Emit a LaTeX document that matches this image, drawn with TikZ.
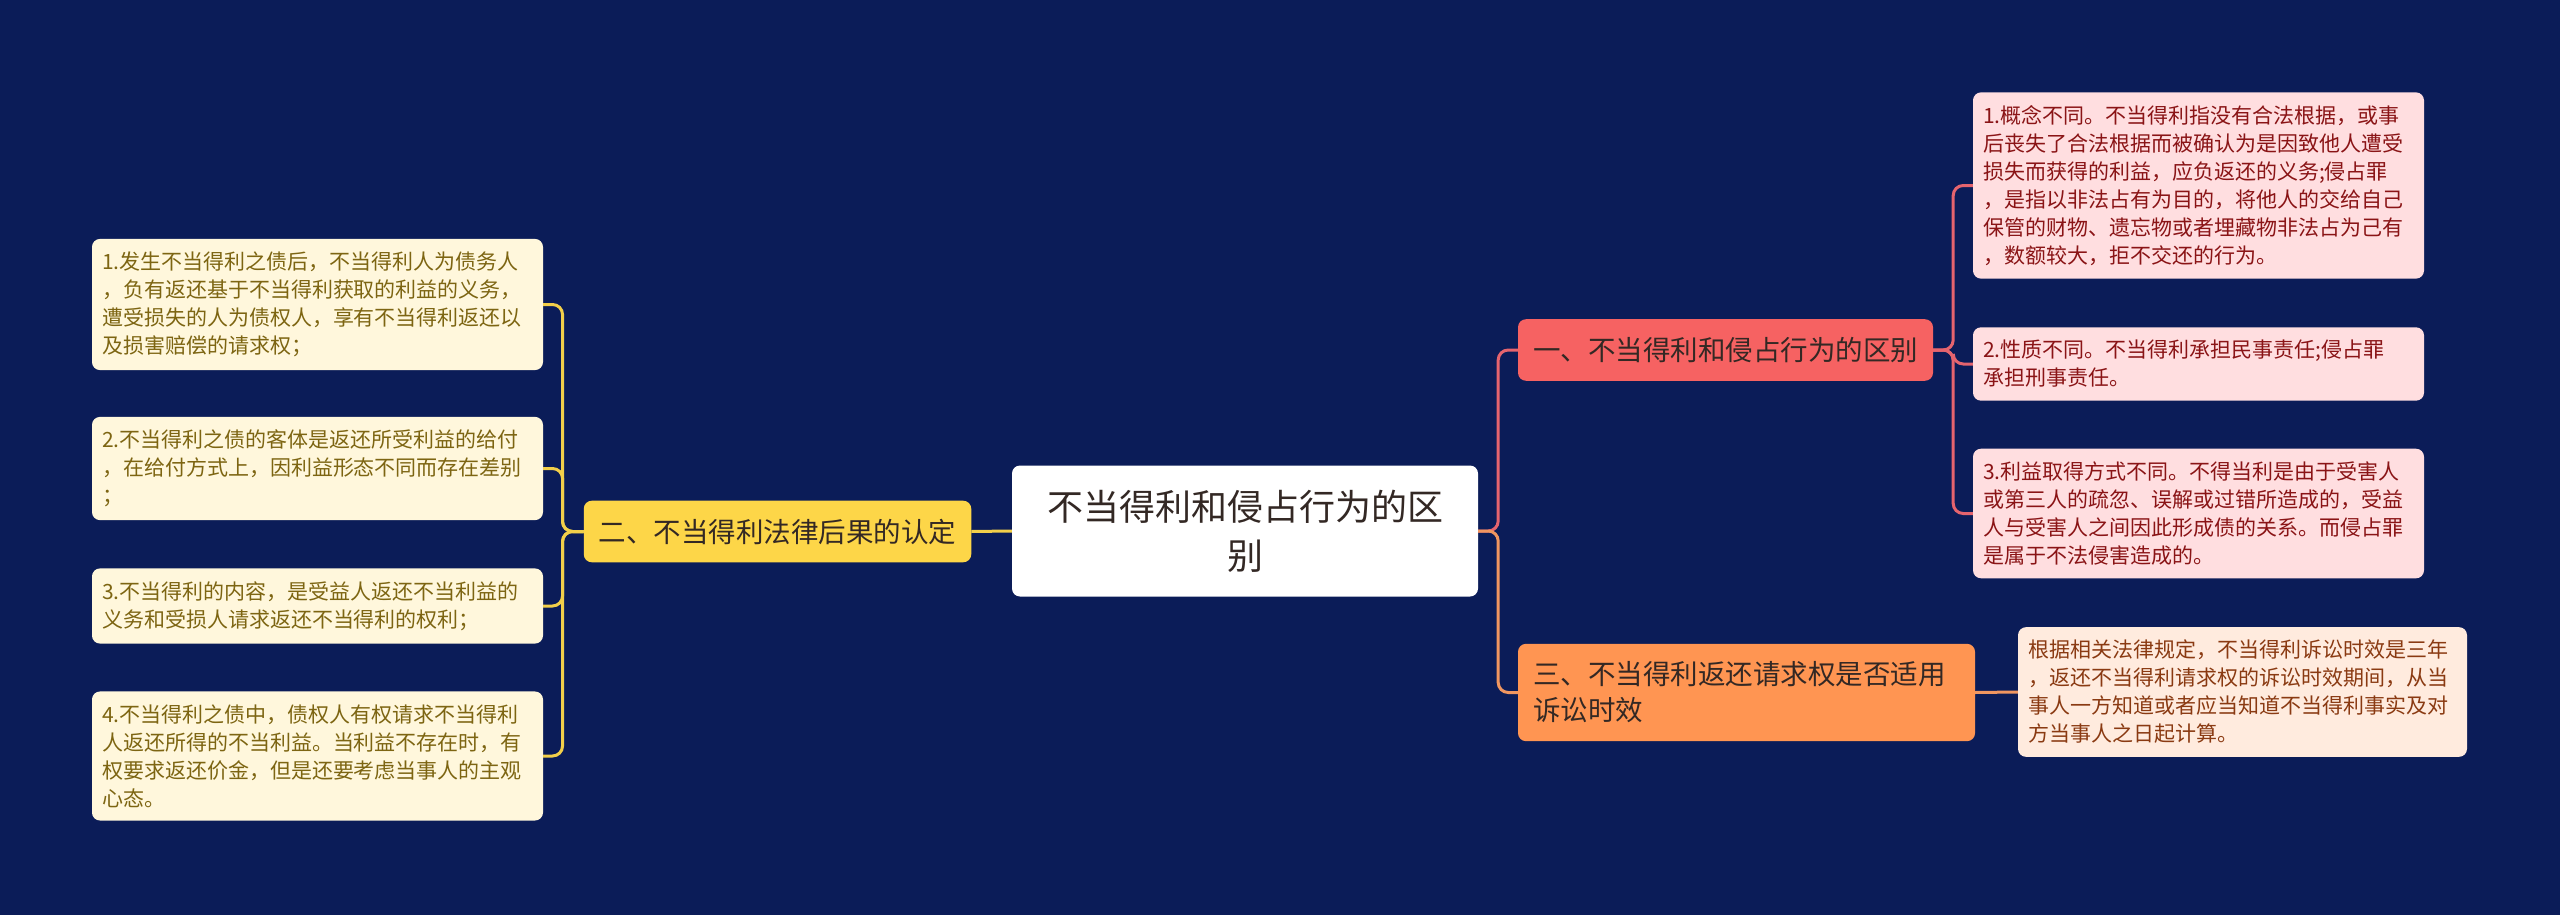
\documentclass[tikz,border=0pt]{standalone}
\usepackage{fontspec}
\setmainfont{Noto Sans CJK SC}

\begin{document}
\begin{tikzpicture}[
  x=1pt,y=-1pt,
  box/.style={rounded corners=8pt,inner xsep=10pt,inner ysep=13pt,align=left},
  leafbox/.style={box,text width=431pt,font=\fontsize{21}{28}\selectfont},
  branchbox/.style={box,inner xsep=15pt,inner ysep=18pt,font=\fontsize{27.5}{36}\selectfont},
  yleaf/.style={leafbox,fill=yleaffill,text=yleaftext},
  rleaf/.style={leafbox,fill=rleaffill,text=rleaftext},
  oleaf/.style={leafbox,text width=429pt,fill=oleaffill,text=oleaftext},
  link/.style={line width=3pt,rounded corners=10pt},
  ylink/.style={link,draw=ylinkcol},
  rlink/.style={link,draw=rlinkcol},
  olink/.style={link,draw=olinkcol}
]
\definecolor{bg}{RGB}{11,28,88}
\definecolor{yfill}{RGB}{253,214,72}
\definecolor{yleaffill}{RGB}{255,247,220}
\definecolor{yleaftext}{RGB}{125,101,18}
\definecolor{ylinkcol}{RGB}{242,207,74}
\definecolor{rfill}{RGB}{246,98,98}
\definecolor{rleaffill}{RGB}{255,222,224}
\definecolor{rleaftext}{RGB}{138,20,22}
\definecolor{rlinkcol}{RGB}{229,100,110}
\definecolor{ofill}{RGB}{255,149,82}
\definecolor{oleaffill}{RGB}{255,235,222}
\definecolor{oleaftext}{RGB}{138,58,18}
\definecolor{olinkcol}{RGB}{240,150,96}
\definecolor{darktext}{RGB}{51,40,36}

% Background and page size.
\fill[bg] (0,0) rectangle (2560,915);
\useasboundingbox (0,0) rectangle (2560,915);

% Central topic.
\node[box,fill=white,text=darktext,align=center,minimum width=466pt,minimum height=131pt,
  font=\fontsize{36}{49}\selectfont] (root) at (1245,531)
  {不当得利和侵占行为的区\\别};

% Left branch with its four points.
\node[branchbox,fill=yfill,text=darktext] (b2) at (777.5,531.5) {二、不当得利法律后果的认定};
\node[yleaf] (l1) at (317.5,304.5)
  {1.发生不当得利之债后，不当得利人为债务人\\，负有返还基于不当得利获取的利益的义务，\\遭受损失的人为债权人，享有不当得利返还以\\及损害赔偿的请求权；};
\node[yleaf] (l2) at (317.5,468.5)
  {2.不当得利之债的客体是返还所受利益的给付\\，在给付方式上，因利益形态不同而存在差别\\；};
\node[yleaf] (l3) at (317.5,606)
  {3.不当得利的内容，是受益人返还不当利益的\\义务和受损人请求返还不当得利的权利；};
\node[yleaf] (l4) at (317.5,756)
  {4.不当得利之债中，债权人有权请求不当得利\\人返还所得的不当利益。当利益不存在时，有\\权要求返还价金，但是还要考虑当事人的主观\\心态。};

% Right branch one: the three differences.
\node[branchbox,fill=rfill,text=darktext] (b1) at (1725.5,350) {一、不当得利和侵占行为的区别};
\node[rleaf] (r1) at (2198.5,185.5)
  {1.概念不同。不当得利指没有合法根据，或事\\后丧失了合法根据而被确认为是因致他人遭受\\损失而获得的利益，应负返还的义务;侵占罪\\，是指以非法占有为目的，将他人的交给自己\\保管的财物、遗忘物或者埋藏物非法占为己有\\，数额较大，拒不交还的行为。};
\node[rleaf] (r2) at (2198.5,364)
  {2.性质不同。不当得利承担民事责任;侵占罪\\承担刑事责任。};
\node[rleaf] (r3) at (2198.5,513.5)
  {3.利益取得方式不同。不得当利是由于受害人\\或第三人的疏忽、误解或过错所造成的，受益\\人与受害人之间因此形成债的关系。而侵占罪\\是属于不法侵害造成的。};

% Right branch three: limitation period.
\node[branchbox,fill=ofill,text=darktext,text width=427pt] (b3) at (1746.5,692.5)
  {三、不当得利返还请求权是否适用\\诉讼时效};
\node[oleaf] (r4) at (2242.5,692)
  {根据相关法律规定，不当得利诉讼时效是三年\\，返还不当得利请求权的诉讼时效期间，从当\\事人一方知道或者应当知道不当得利事实及对\\方当事人之日起计算。};

% Connectors.
\draw[ylink] (root.west) -- (b2.east);
\foreach \leaf in {l1,l2,l3,l4}
  \draw[ylink] (b2.west) -- ++(-21,0) |- (\leaf.east);
\draw[rlink] (root.east) -- ++(20,0) |- (b1.west);
\draw[olink] (root.east) -- ++(20,0) |- (b3.west);
\foreach \leaf in {r1,r2,r3}
  \draw[rlink] (b1.east) -- ++(20,0) |- (\leaf.west);
\draw[olink] (b3.east) -- (r4.west);
\end{tikzpicture}
\end{document}
